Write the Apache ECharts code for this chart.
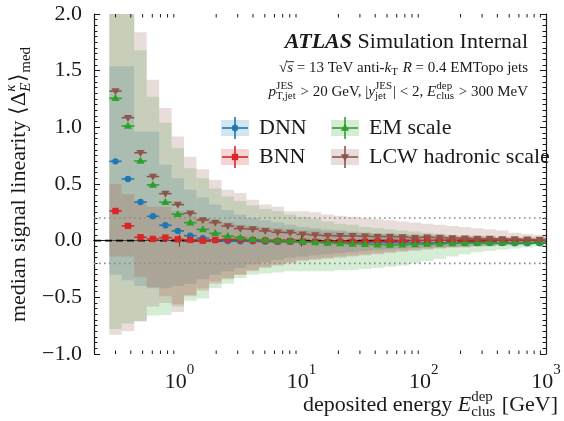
<!DOCTYPE html>
<html>
<head>
<meta charset="utf-8">
<script src="https://cdn.jsdelivr.net/npm/echarts@6/dist/echarts.min.js"></script>
<style>
html, body { margin: 0; padding: 0; background: #fff; }
#chart { width: 564px; height: 421px; }
</style>
</head>
<body>
<div id="chart"></div>
<script>
// bin edges of deposited energy [GeV]
var binEdges = [0.267, 0.337, 0.427, 0.540, 0.683, 0.864, 1.09, 1.38, 1.75, 2.21, 2.80, 3.54,
  4.48, 5.67, 7.17, 9.07, 11.5, 14.5, 18.4, 23.2, 29.4, 37.2, 47.0, 59.5, 75.2, 95.2, 120,
  152, 193, 244, 308, 390, 493, 624, 790, 1000];

// medians
var dnnVals = [0.70, 0.544, 0.341, 0.215, 0.136, 0.086, 0.044, 0.021, 0.006, -0.003, -0.005, -0.006,
  -0.008, -0.010, -0.010, -0.012, -0.012, -0.013, -0.014, -0.015, -0.016, -0.016, -0.017, -0.018,
  -0.018, -0.019, -0.019, -0.020, -0.020, -0.020, -0.021, -0.021, -0.022, -0.022, -0.022];
var bnnVals = [0.262, 0.130, 0.030, 0.015, 0.027, 0.012, 0.006, 0.000, 0.006, 0.012, 0.010, 0.004,
  0.000, -0.004, -0.005, -0.008, -0.010, -0.012, -0.010, -0.010, -0.008, -0.005, -0.002, 0.000,
  0.002, 0.003, 0.004, 0.004, 0.005, 0.005, 0.005, 0.005, 0.004, 0.004, 0.003];
var emVals = [1.256, 1.012, 0.703, 0.492, 0.339, 0.233, 0.159, 0.100, 0.065, 0.039, 0.027, 0.012,
  0.006, 0.003, 0.000, -0.010, -0.015, -0.020, -0.024, -0.028, -0.032, -0.035, -0.038, -0.036,
  -0.033, -0.030, -0.027, -0.024, -0.022, -0.020, -0.018, -0.017, -0.016, -0.016, -0.015];
var lcwVals = [1.32, 1.085, 0.776, 0.566, 0.415, 0.318, 0.242, 0.183, 0.159, 0.130, 0.106, 0.103,
  0.086, 0.074, 0.071, 0.056, 0.050, 0.044, 0.042, 0.042, 0.039, 0.036, 0.036, 0.033, 0.027,
  0.030, 0.027, 0.024, 0.021, 0.018, 0.018, 0.015, 0.015, 0.012, 0.009];

// spread bands (lower / upper)
var dnnLow = [-0.30, -0.35, -0.40, -0.42, -0.42, -0.40, -0.38, -0.34, -0.30, -0.27, -0.24, -0.21,
  -0.19, -0.17, -0.15, -0.14, -0.13, -0.12, -0.11, -0.10, -0.09, -0.08, -0.075, -0.07, -0.065,
  -0.06, -0.055, -0.05, -0.05, -0.045, -0.04, -0.04, -0.035, -0.035, -0.03];
var dnnHigh = [1.54, 1.54, 0.96, 0.96, 0.67, 0.55, 0.45, 0.38, 0.32, 0.27, 0.23, 0.20, 0.18, 0.16,
  0.14, 0.12, 0.11, 0.10, 0.09, 0.08, 0.07, 0.06, 0.055, 0.05, 0.045, 0.04, 0.035, 0.03, 0.03,
  0.025, 0.02, 0.02, 0.015, 0.01, 0.01];
var bnnLow = [-0.14, -0.14, -0.32, -0.41, -0.49, -0.56, -0.49, -0.44, -0.38, -0.34, -0.30, -0.26,
  -0.23, -0.21, -0.19, -0.17, -0.16, -0.15, -0.14, -0.13, -0.12, -0.11, -0.10, -0.09, -0.08,
  -0.07, -0.065, -0.06, -0.055, -0.05, -0.045, -0.04, -0.04, -0.035, -0.03];
var bnnHigh = [0.50, 0.41, 0.35, 0.30, 0.30, 0.26, 0.23, 0.20, 0.18, 0.16, 0.14, 0.13, 0.12, 0.11,
  0.10, 0.09, 0.09, 0.08, 0.08, 0.07, 0.07, 0.06, 0.06, 0.06, 0.05, 0.05, 0.05, 0.04, 0.04, 0.04,
  0.04, 0.03, 0.03, 0.03, 0.03];
var emLow = [-0.78, -0.73, -0.71, -0.66, -0.655, -0.58, -0.53, -0.51, -0.42, -0.38, -0.33, -0.30,
  -0.29, -0.28, -0.27, -0.27, -0.27, -0.27, -0.26, -0.26, -0.25, -0.24, -0.23, -0.22, -0.20,
  -0.18, -0.16, -0.14, -0.12, -0.10, -0.09, -0.08, -0.07, -0.06, -0.05];
var emHigh = [2.5, 2.2, 1.68, 1.27, 1.04, 0.815, 0.64, 0.55, 0.46, 0.39, 0.35, 0.31, 0.28, 0.26,
  0.23, 0.21, 0.19, 0.17, 0.15, 0.14, 0.12, 0.11, 0.10, 0.09, 0.08, 0.07, 0.06, 0.05, 0.045,
  0.04, 0.035, 0.03, 0.025, 0.02, 0.02];
var lcwLow = [-0.83, -0.80, -0.71, -0.58, -0.55, -0.63, -0.48, -0.42, -0.36, -0.33, -0.30, -0.27,
  -0.24, -0.22, -0.20, -0.18, -0.17, -0.16, -0.15, -0.14, -0.13, -0.12, -0.11, -0.10, -0.09,
  -0.08, -0.07, -0.06, -0.06, -0.05, -0.05, -0.04, -0.04, -0.03, -0.03];
var lcwHigh = [2.6, 2.3, 1.84, 1.42, 1.17, 0.92, 0.74, 0.63, 0.535, 0.45, 0.42, 0.36, 0.32, 0.30,
  0.26, 0.26, 0.25, 0.23, 0.22, 0.21, 0.20, 0.19, 0.18, 0.17, 0.16, 0.15, 0.14, 0.13, 0.12,
  0.11, 0.10, 0.09, 0.07, 0.06, 0.05];

var xMinorTicks = [0.3, 0.4, 0.5, 0.6, 0.7, 0.8, 0.9, 2, 3, 4, 5, 6, 7, 8, 9,
  20, 30, 40, 50, 60, 70, 80, 90, 200, 300, 400, 500, 600, 700, 800, 900];
var refLines = [[0, 'dash'], [0.2, 'dot'], [-0.2, 'dot']];

var FONT = 'Liberation Serif';
var INK = '#1a1a1a';

var models = [
  {name: 'DNN', color: '#1f77b4', rgb: '31,119,180', kind: 'circle', vals: dnnVals, low: dnnLow, high: dnnHigh},
  {name: 'BNN', color: '#d62728', rgb: '214,39,40', kind: 'square', vals: bnnVals, low: bnnLow, high: bnnHigh},
  {name: 'EM scale', color: '#2ca02c', rgb: '44,160,44', kind: 'up', vals: emVals, low: emLow, high: emHigh},
  {name: 'LCW hadronic scale', color: '#8c564b', rgb: '140,86,75', kind: 'down', vals: lcwVals, low: lcwLow, high: lcwHigh}
];
var BAND_ALPHA = 0.2;

// --- little text helper for sub/superscripts ---
var ctx2d = document.createElement('canvas').getContext('2d');
function measure(str, size, italic, bold) {
  ctx2d.font = (italic ? 'italic ' : '') + (bold ? 'bold ' : '') + size + 'px "' + FONT + '"';
  return ctx2d.measureText(str).width;
}
function txt(str, x, y, size, italic, bold) {
  return {
    type: 'text', x: x, y: y, silent: true,
    style: {
      text: str, fontFamily: FONT, fontSize: size,
      fontStyle: italic ? 'italic' : 'normal', fontWeight: bold ? 'bold' : 'normal',
      fill: INK, align: 'left', verticalAlign: 'middle', textAlign: 'left', textVerticalAlign: 'middle'
    }
  };
}
function mathLine(parts, size) {
  var x = 0, kids = [];
  parts.forEach(function (p) {
    if (typeof p === 'string') p = {t: p};
    if (p.t !== undefined) {
      var w0 = measure(p.t, size, p.i, p.b);
      kids.push(txt(p.t, x, 0, size, p.i, p.b));
      if (p.over) {
        kids.push({type: 'line', silent: true, shape: {x1: x - 1, y1: -size * 0.42, x2: x + w0 + 1, y2: -size * 0.42},
          style: {stroke: INK, lineWidth: 0.9}});
      }
      x += w0;
    } else {
      var s = Math.round(size * 0.7), w = 0;
      if (p.sup) {
        kids.push(txt(p.sup, x, -size * 0.36, s, p.supI));
        w = Math.max(w, measure(p.sup, s, p.supI));
      }
      if (p.sub) {
        kids.push(txt(p.sub, x, size * 0.3, s, p.subI));
        w = Math.max(w, measure(p.sub, s, p.subI));
      }
      x += w + 1;
    }
  });
  return {kids: kids, width: x};
}
function rightText(parts, size, right, cy) {
  var m = mathLine(parts, size);
  return {type: 'group', x: right - m.width, y: cy, children: m.kids};
}

function marker(kind, x, y, color) {
  if (kind === 'circle') return {type: 'circle', shape: {cx: x, cy: y, r: 3.2}, style: {fill: color}};
  if (kind === 'square') return {type: 'rect', shape: {x: x - 3.2, y: y - 3.2, width: 6.4, height: 6.4}, style: {fill: color}};
  if (kind === 'up') return {type: 'polygon', shape: {points: [[x, y - 4.2], [x - 4.1, y + 2.8], [x + 4.1, y + 2.8]]}, style: {fill: color}};
  return {type: 'polygon', shape: {points: [[x, y + 4.2], [x - 4.1, y - 2.8], [x + 4.1, y - 2.8]]}, style: {fill: color}};
}

// --- series ---
var series = [];
models.forEach(function (m) {
  var rows = m.vals.map(function (v, i) {
    return [binEdges[i], binEdges[i + 1], m.low[i], m.high[i]];
  });
  series.push({
    type: 'custom', name: m.name + ' band', silent: true, clip: true, z: 1,
    encode: {x: [0, 1], y: [2, 3]},
    data: rows,
    renderItem: function (params, api) {
      var a = api.coord([api.value(0), api.value(3)]);
      var b = api.coord([api.value(1), api.value(2)]);
      return {
        type: 'rect',
        shape: {x: a[0], y: a[1], width: b[0] - a[0], height: b[1] - a[1]},
        style: {fill: 'rgba(' + m.rgb + ',' + BAND_ALPHA + ')'}
      };
    }
  });
});

series.push({
  type: 'custom', name: 'ref', silent: true, z: 2,
  encode: {y: 0},
  data: refLines,
  renderItem: function (params, api) {
    var kind = refLines[params.dataIndex][1];
    var a = api.coord([0.2, api.value(0)]);
    var b = api.coord([1000, api.value(0)]);
    return {
      type: 'line',
      shape: {x1: a[0], y1: a[1], x2: b[0], y2: b[1]},
      style: kind === 'dash'
        ? {stroke: '#000', lineWidth: 1.6, lineDash: [7, 4]}
        : {stroke: '#8c8c8c', lineWidth: 1.6, lineDash: [1.6, 3.4]}
    };
  }
});

models.forEach(function (m) {
  var rows = m.vals.map(function (v, i) {
    return [binEdges[i], binEdges[i + 1], Math.sqrt(binEdges[i] * binEdges[i + 1]), v];
  });
  series.push({
    type: 'custom', name: m.name, silent: true, clip: true, z: 5,
    encode: {x: [0, 1, 2], y: 3},
    data: rows,
    renderItem: function (params, api) {
      var a = api.coord([api.value(0), api.value(3)]);
      var b = api.coord([api.value(1), api.value(3)]);
      var c = api.coord([api.value(2), api.value(3)]);
      return {
        type: 'group',
        children: [
          {type: 'line', shape: {x1: a[0], y1: a[1], x2: b[0], y2: b[1]}, style: {stroke: m.color, lineWidth: 1.6}},
          marker(m.kind, c[0], c[1], m.color)
        ]
      };
    }
  });
});

// minor ticks on the log axes (bottom and top)
series.push({
  type: 'custom', name: 'minor', silent: true, z: 6,
  encode: {x: 0},
  data: xMinorTicks.map(function (v) { return [v]; }),
  renderItem: function (params, api) {
    var b = api.coord([api.value(0), -1]);
    var t = api.coord([api.value(0), 2]);
    return {
      type: 'group',
      children: [
        {type: 'line', shape: {x1: b[0], y1: b[1], x2: b[0], y2: b[1] - 3.5}, style: {stroke: INK, lineWidth: 1}},
        {type: 'line', shape: {x1: t[0], y1: t[1], x2: t[0], y2: t[1] + 3.5}, style: {stroke: INK, lineWidth: 1}}
      ]
    };
  }
});

// --- annotations & legend ---
var graphic = [];
graphic.push(rightText([{t: 'ATLAS', i: true, b: true}, ' Simulation Internal'], 22, 528, 42));
graphic.push(rightText(['√', {t: 's', i: true, over: true}, ' = 13 TeV anti-', {t: 'k', i: true}, {sub: 'T'},
  ' ', {t: 'R', i: true}, ' = 0.4 EMTopo jets'], 15, 528, 68));
graphic.push(rightText([{t: 'p', i: true}, {sup: 'JES', sub: 'T,jet'}, ' > 20 GeV, |', {t: 'y', i: true},
  {sup: 'JES', sub: 'jet'}, '| < 2, ', {t: 'E', i: true}, {sup: 'dep', sub: 'clus'}, ' > 300 MeV'], 15, 528, 92));

graphic.push(rightText(['deposited energy ', {t: 'E', i: true}, {sup: 'dep', sub: 'clus'}, ' [GeV]'], 22, 558, 405));

var yl = mathLine(['median signal linearity ⟨Δ', {sup: 'κ', sub: 'E', supI: true, subI: true}, '⟩', {sub: 'med'}], 22);
graphic.push({type: 'group', x: 19, y: 184 + yl.width / 2, rotation: Math.PI / 2, children: yl.kids});

var legendSlots = [[221, 128], [221, 157], [331, 128], [331, 157]];
models.forEach(function (m, i) {
  var x = legendSlots[i][0], y = legendSlots[i][1];
  graphic.push({type: 'rect', shape: {x: x, y: y - 8, width: 28, height: 16}, style: {fill: 'rgba(' + m.rgb + ',' + BAND_ALPHA + ')'}});
  graphic.push({type: 'line', shape: {x1: x + 1, y1: y, x2: x + 27, y2: y}, style: {stroke: m.color, lineWidth: 1.6}});
  graphic.push({type: 'line', shape: {x1: x + 14, y1: y - 11, x2: x + 14, y2: y + 11}, style: {stroke: m.color, lineWidth: 1.6}});
  graphic.push(marker(m.kind, x + 14, y, m.color));
  graphic.push(txt(m.name, x + 38, y, 22));
});

var axisCommon = {
  axisLine: {lineStyle: {color: INK, width: 1.2}},
  axisTick: {inside: true, length: 6, lineStyle: {color: INK, width: 1}},
  splitLine: {show: false}
};

var supStyle = {fontSize: 15, fontFamily: FONT, color: INK, lineHeight: 15, verticalAlign: 'top'};
var baseStyle = {fontSize: 22, fontFamily: FONT, color: INK, lineHeight: 30, verticalAlign: 'bottom'};

var option = {
  animation: false,
  grid: {left: 94, right: 18, top: 14, bottom: 67},
  xAxis: [
    Object.assign({
      type: 'log', logBase: 10, min: 0.2, max: 1000, position: 'bottom',
      axisLabel: {
        showMinLabel: false, margin: 9,
        formatter: function (v) {
          var e = Math.log10(v);
          if (Math.abs(e - Math.round(e)) > 1e-6) return '';
          return '{b|10}{s|' + Math.round(e) + '}';
        },
        rich: {b: baseStyle, s: supStyle}
      }
    }, axisCommon),
    Object.assign({
      type: 'log', logBase: 10, min: 0.2, max: 1000, position: 'top',
      axisLabel: {show: false}
    }, axisCommon)
  ],
  yAxis: [
    Object.assign({
      type: 'value', min: -1, max: 2, interval: 0.5, position: 'left',
      minorTick: {show: true, splitNumber: 10, length: 3.5, lineStyle: {color: INK, width: 1}},
      minorSplitLine: {show: false},
      axisLabel: {
        fontSize: 22, fontFamily: FONT, color: INK, margin: 12,
        formatter: function (v) { return v.toFixed(1).replace('-', '\u2212'); }
      }
    }, axisCommon),
    Object.assign({
      type: 'value', min: -1, max: 2, interval: 0.5, position: 'right',
      minorTick: {show: true, splitNumber: 10, length: 3.5, lineStyle: {color: INK, width: 1}},
      minorSplitLine: {show: false},
      axisLabel: {show: false}
    }, axisCommon)
  ],
  graphic: graphic,
  series: series
};

var chart = echarts.init(document.getElementById('chart'), null, {renderer: 'canvas'});
chart.setOption(option);
</script>
</body>
</html>
